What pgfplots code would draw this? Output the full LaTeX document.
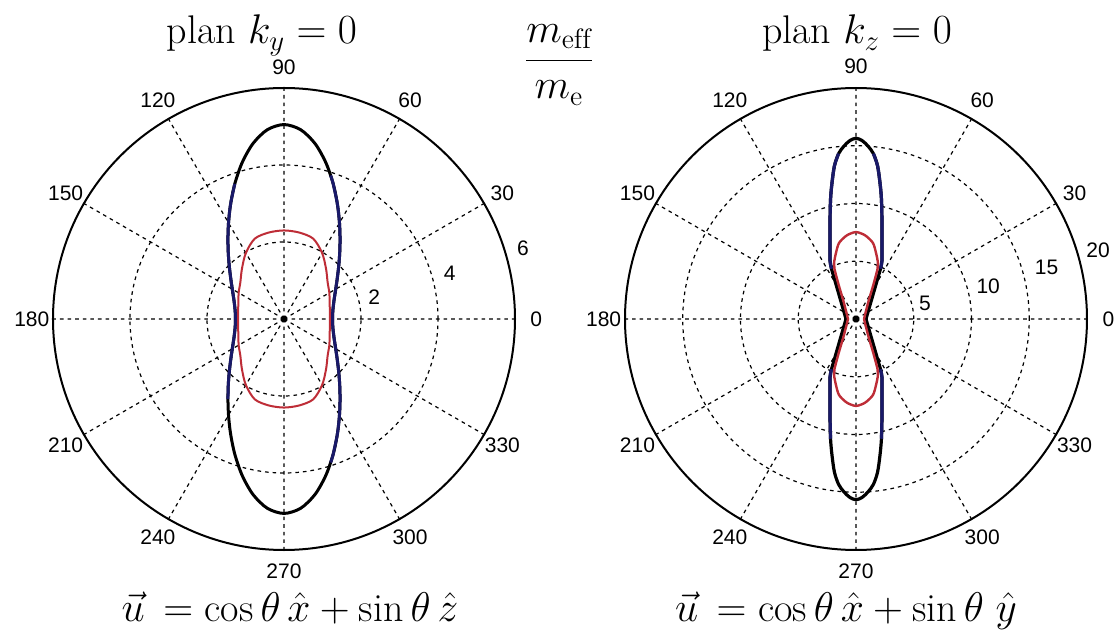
\documentclass[border=0pt]{standalone}
\usepackage{fontspec}
\usepackage{pgfplots}
\pgfplotsset{compat=1.18}
\usepgfplotslibrary{polar}
\newfontfamily\tickfont{Liberation Sans}
\definecolor{curveblue}{RGB}{25,25,105}
\definecolor{curvered}{RGB}{190,45,55}

\pgfplotsset{
  massgrid/.style={
    scale only axis, width=231pt, height=231pt,
    ymin=0, xtick={0,30,...,330},
    xmajorticks=false, ymajorticks=false,
    xmajorgrids=true, ymajorgrids=true,
    major grid style={black, line width=0.6pt, dash pattern=on 1.8pt off 2pt},
    axis line style={black, line width=1pt, line cap=butt, line join=miter},
    y axis line style={draw=none},
    clip=false,
  },
}
\tikzset{lbl/.style={font=\tickfont\fontsize{10.5}{12}\selectfont, inner sep=0pt}}

\begin{document}
\begin{tikzpicture}
\path[use as bounding box] (0,0) rectangle (558pt,-315pt);

% ---------- plane k_y = 0 ----------
\begin{polaraxis}[massgrid, at={(142pt,-159.5pt)}, anchor=center, ymax=6, ytick={2,4}]
\addplot[black, line width=1.5pt, smooth] coordinates {
 (0,1.260) (5,1.267) (10,1.289) (15,1.327) (20,1.381) (25,1.455) (30,1.551) (35,1.673)
 (40,1.826) (45,2.017) (50,2.252) (55,2.538) (60,2.882) (65,3.285) (70,3.736) (75,4.203)
 (80,4.630) (85,4.937) (90,5.050) (95,4.937) (100,4.630) (105,4.203) (110,3.736) (115,3.285)
 (120,2.882) (125,2.538) (130,2.252) (135,2.017) (140,1.826) (145,1.673) (150,1.551) (155,1.455)
 (160,1.381) (165,1.327) (170,1.289) (175,1.267) (180,1.260) (185,1.267) (190,1.289) (195,1.327)
 (200,1.381) (205,1.455) (210,1.551) (215,1.673) (220,1.826) (225,2.017) (230,2.252) (235,2.538)
 (240,2.882) (245,3.285) (250,3.736) (255,4.203) (260,4.630) (265,4.937) (270,5.050) (275,4.937)
 (280,4.630) (285,4.203) (290,3.736) (295,3.285) (300,2.882) (305,2.538) (310,2.252) (315,2.017)
 (320,1.826) (325,1.673) (330,1.551) (335,1.455) (340,1.381) (345,1.327) (350,1.289) (355,1.267)
 (360,1.260)};
\addplot[curveblue, line width=1.5pt, smooth] coordinates {
 (-72,3.92) (-70,3.736) (-65,3.285) (-60,2.882) (-55,2.538) (-50,2.252) (-45,2.017) (-40,1.826)
 (-35,1.673) (-30,1.551) (-25,1.455) (-20,1.381) (-15,1.327) (-10,1.289) (-5,1.267) (0,1.260)
 (5,1.267) (10,1.289) (15,1.327) (20,1.381) (25,1.455) (30,1.551) (35,1.673) (40,1.826)
 (45,2.017) (50,2.252) (55,2.538) (60,2.882) (65,3.285) (70,3.736) (72,3.92)};
\addplot[curveblue, line width=1.5pt, smooth] coordinates {
 (110,3.736) (115,3.285) (120,2.882) (125,2.538) (130,2.252) (135,2.017) (140,1.826) (145,1.673)
 (150,1.551) (155,1.455) (160,1.381) (165,1.327) (170,1.289) (175,1.267) (180,1.260) (185,1.267)
 (190,1.289) (195,1.327) (200,1.381) (205,1.455) (210,1.551) (215,1.673) (220,1.826) (225,2.017)
 (230,2.252) (235,2.538)};
\addplot[curvered, line width=1pt, smooth] coordinates {
 (0,1.19) (10,1.21) (20,1.26) (30,1.36) (40,1.48) (50,1.70) (60,1.98) (70,2.22) (80,2.28)
 (90,2.30) (100,2.28) (110,2.22) (120,1.98) (130,1.70) (140,1.48) (150,1.36) (160,1.26)
 (170,1.21) (180,1.19) (190,1.21) (200,1.26) (210,1.36) (220,1.48) (230,1.70) (240,1.98)
 (250,2.22) (260,2.28) (270,2.30) (280,2.28) (290,2.22) (300,1.98) (310,1.70) (320,1.48)
 (330,1.36) (340,1.26) (350,1.21) (360,1.19)};
\pgfplotsinvokeforeach{0,30,60,90,120,150,180,210,240,270,300,330}{
  \node[lbl] at (axis cs:#1,6.55) {#1};}
\node[lbl] at (axis cs:13.7,2.41) {2};
\node[lbl] at (axis cs:15.3,4.46) {4};
\node[lbl] at (axis cs:16.4,6.47) {6};
\end{polaraxis}

% ---------- plane k_z = 0 ----------
\begin{polaraxis}[massgrid, at={(428pt,-159.5pt)}, anchor=center, ymax=20, ytick={5,10,15}]
\addplot[black, line width=1.6pt, smooth] coordinates {
 (0,0.87) (15,0.97) (30,1.20) (45,1.72) (55,2.57) (60,3.46) (62,4.03) (64,4.84) (66,5.53)
 (70,6.58) (73,7.7) (75,8.7) (78,10.6) (80,11.97) (82,13.4) (84,14.4) (86,15.0) (88,15.45)
 (90,15.65)
 (92,15.45) (94,15.0) (96,14.4) (98,13.4) (100,11.97) (102,10.6) (105,8.7) (107,7.7) (110,6.58)
 (114,5.53) (116,4.84) (118,4.03) (120,3.46) (125,2.57) (135,1.72) (150,1.20) (165,0.97)
 (180,0.87)
 (195,0.97) (210,1.20) (225,1.72) (235,2.57) (240,3.46) (242,4.03) (244,4.84) (246,5.53)
 (250,6.58) (253,7.7) (255,8.7) (258,10.6) (260,11.97) (262,13.4) (264,14.4) (266,15.0)
 (268,15.45) (270,15.65)
 (272,15.45) (274,15.0) (276,14.4) (278,13.4) (280,11.97) (282,10.6) (285,8.7) (287,7.7)
 (290,6.58) (294,5.53) (296,4.84) (298,4.03) (300,3.46) (305,2.57) (315,1.72) (330,1.20)
 (345,0.97) (360,0.87)};
\addplot[curveblue, line width=1.6pt, smooth] coordinates {
 (64,4.84) (66,5.53) (70,6.58) (73,7.7) (75,8.7) (78,10.6) (80,11.97) (82,13.4) (84,14.4)};
\addplot[curveblue, line width=1.6pt, smooth] coordinates {
 (96,14.4) (98,13.4) (100,11.97) (102,10.6) (105,8.7) (107,7.7) (110,6.58) (114,5.53) (116,4.84)};
\addplot[curveblue, line width=1.6pt, smooth] coordinates {
 (244,4.84) (246,5.53) (250,6.58) (253,7.7) (255,8.7) (258,10.6)};
\addplot[curveblue, line width=1.6pt, smooth] coordinates {
 (282,10.6) (285,8.7) (287,7.7) (290,6.58) (294,5.53) (296,4.84)};
\addplot[curvered, line width=1.2pt, smooth] coordinates {
 (0,0.69) (15,0.77) (30,0.93) (45,1.31) (53,1.73) (60,2.57) (62.7,3.21) (66.7,4.71) (68.6,5.21)
 (73.1,5.97) (77.4,6.74) (83.1,7.24) (86.5,7.42) (90,7.53)
 (93.5,7.42) (96.9,7.24) (102.6,6.74) (106.9,5.97) (111.4,5.21) (113.3,4.71) (117.3,3.21)
 (120,2.57) (127,1.73) (135,1.31) (150,0.93) (165,0.77) (180,0.69)
 (195,0.77) (210,0.93) (225,1.31) (233,1.73) (240,2.57) (242.7,3.21) (246.7,4.71) (248.6,5.21)
 (253.1,5.97) (257.4,6.74) (263.1,7.24) (266.5,7.42) (270,7.53)
 (273.5,7.42) (276.9,7.24) (282.6,6.74) (286.9,5.97) (291.4,5.21) (293.3,4.71) (297.3,3.21)
 (300,2.57) (307,1.73) (315,1.31) (330,0.93) (345,0.77) (360,0.69)};
\pgfplotsinvokeforeach{0,30,60,90,120,150,180,210,240,270,300,330}{
  \node[lbl] at (axis cs:#1,21.85) {#1};}
\node[lbl] at (axis cs:13,6.13) {5};
\node[lbl] at (axis cs:14,11.8) {10};
\node[lbl] at (axis cs:15.2,17.1) {15};
\node[lbl] at (axis cs:15.9,21.8) {20};
\end{polaraxis}

% ---------- titles and captions ----------
\node[anchor=base, inner sep=0pt] at (131pt,-22pt) {\fontsize{20}{24}\selectfont plan $k_y = 0$};
\node[anchor=base, inner sep=0pt] at (428.5pt,-22pt) {\fontsize{20}{24}\selectfont plan $k_z = 0$};
\node[inner sep=0pt] at (279.5pt,-32.5pt) {\fontsize{20}{24}\selectfont $\displaystyle\frac{m_{\mathrm{eff}}}{m_{\mathrm{e}}}$};
\node[anchor=base, inner sep=0pt] at (145pt,-311pt) {\fontsize{20}{24}\selectfont $\vec{u}\, = \cos\theta\,\hat{x} + \sin\theta\,\hat{z}$};
\node[anchor=base, inner sep=0pt] at (423pt,-311pt) {\fontsize{20}{24}\selectfont $\vec{u}\, = \cos\theta\,\hat{x} + \sin\theta\;\hat{y}$};
\end{tikzpicture}
\end{document}
